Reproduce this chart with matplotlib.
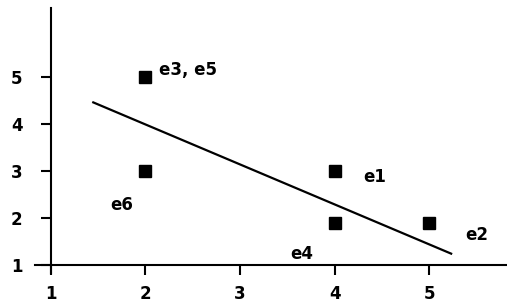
import matplotlib
matplotlib.use("Agg")
import matplotlib.pyplot as plt

# Data
names = ["e1", "e2", "e3, e5", "e4", "e6"]
x_vals = [4, 5, 2, 4, 2]
y_vals = [3, 1.9, 5, 1.9, 3]
trend_x = [1.44, 5.24]
trend_y = [4.47, 1.24]
x_ticks = [1, 2, 3, 4, 5]
y_ticks = [1, 2, 3, 4, 5]

# label offsets (points) relative to marker, and alignment
offsets = {
    "e1": ((29, -4), "center"),
    "e2": ((34, -9), "center"),
    "e3, e5": ((10, 5), "left"),
    "e4": ((-24, -22), "center"),
    "e6": ((-17, -24), "center"),
}

fig = plt.figure(figsize=(5.07, 3.04), dpi=100)
ax = fig.add_axes([0, 0, 1, 1])
ax.set_xlim(0.466, 5.819)
ax.set_ylim(0.180, 6.635)

ax.plot(trend_x, trend_y, color="black", lw=1.6, solid_capstyle="butt")
ax.plot(x_vals, y_vals, ls="none", marker="s", ms=9.2, color="black")

for n, xv, yv in zip(names, x_vals, y_vals):
    (dx, dy), ha = offsets[n]
    ax.annotate(n, (xv, yv), xytext=(dx, dy), textcoords="offset points",
                ha=ha, va="center", fontsize=12, fontweight="bold",
                family="DejaVu Sans")

for s in ["top", "right"]:
    ax.spines[s].set_visible(False)
ax.spines["left"].set_position(("data", 1))
ax.spines["bottom"].set_position(("data", 1))
ax.spines["left"].set_bounds(0.839, 6.465)
ax.spines["bottom"].set_bounds(0.835, 5.819)
for s in ["left", "bottom"]:
    ax.spines[s].set_linewidth(1.5)

ax.set_xticks(x_ticks)
ax.set_yticks(y_ticks)
ax.set_xticklabels([str(t) for t in x_ticks])
ax.set_yticklabels([str(t) for t in y_ticks])
ax.tick_params(axis="y", direction="out", length=7.2, width=1.5, pad=13,
               labelsize=12)
ax.tick_params(axis="x", direction="out", length=7.2, width=1.5, pad=7,
               labelsize=12)
for lab in ax.get_xticklabels() + ax.get_yticklabels():
    lab.set_fontweight("bold")

fig.savefig("out.png", dpi=100)
